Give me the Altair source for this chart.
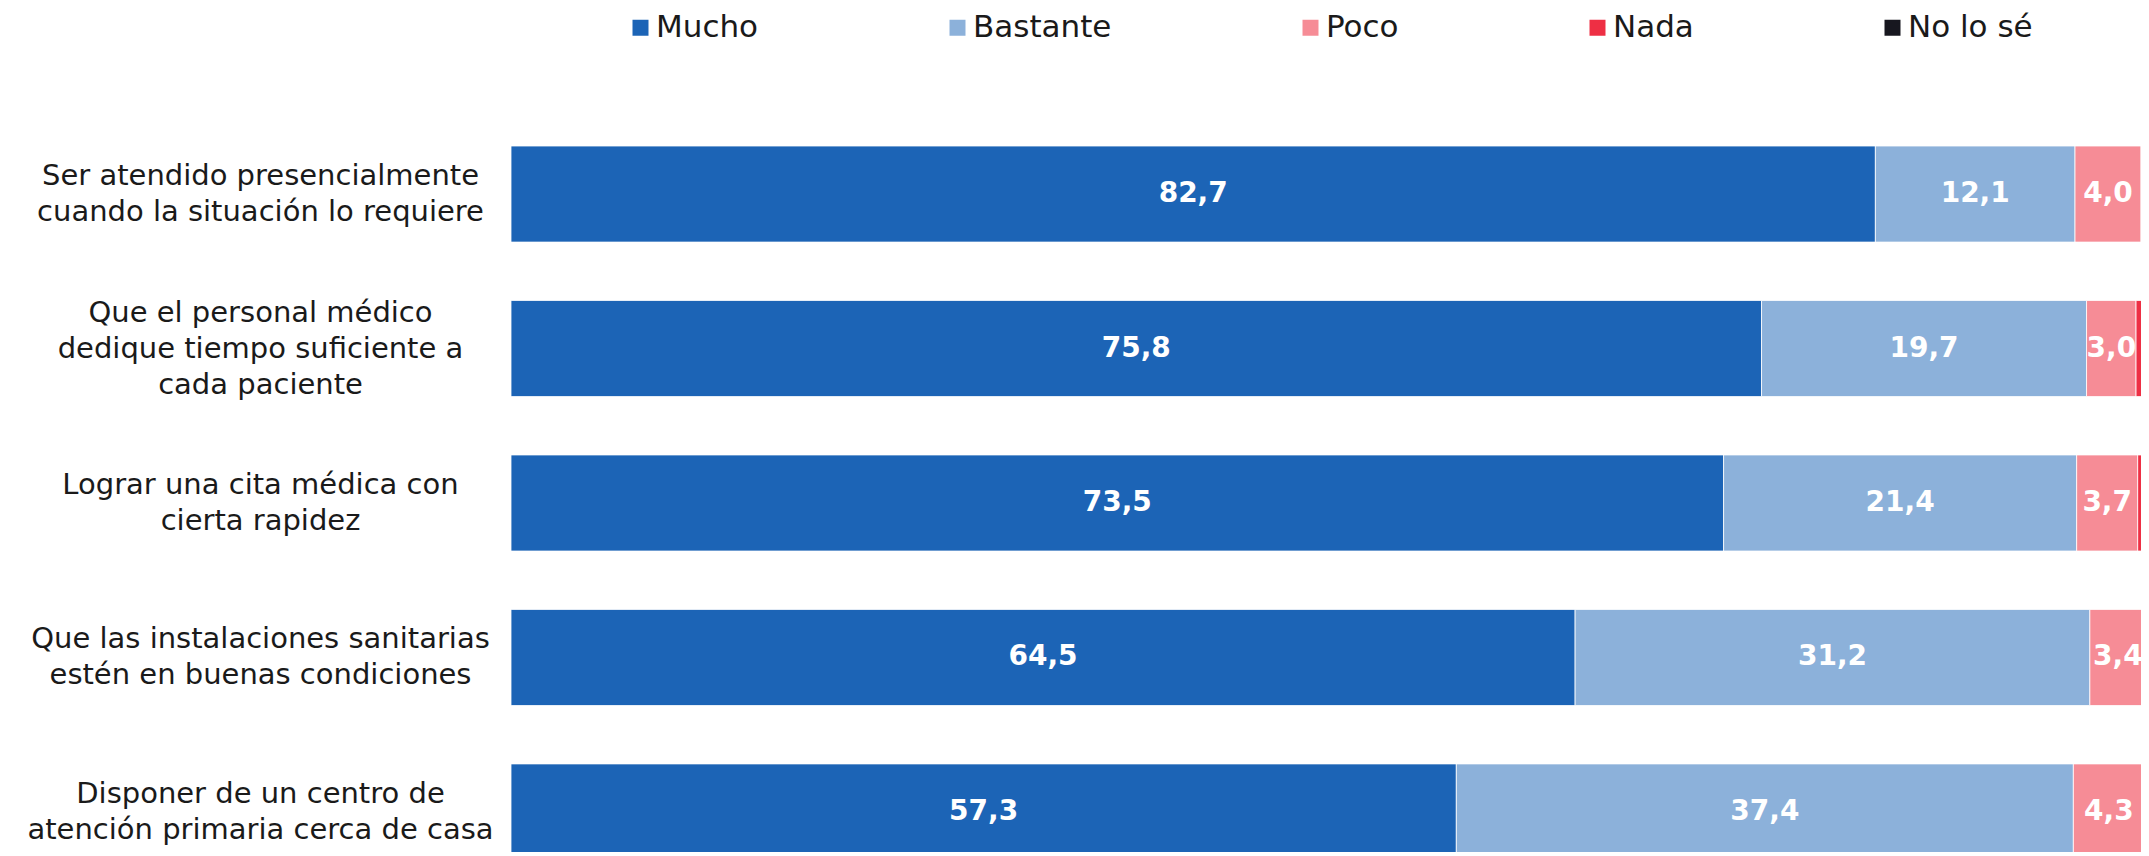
import altair as alt
import pandas as pd

categories = [
    "Ser atendido presencialmente|cuando la situación lo requiere",
    "Que el personal médico|dedique tiempo suficiente a|cada paciente",
    "Lograr una cita médica con|cierta rapidez",
    "Que las instalaciones sanitarias|estén en buenas condiciones",
    "Disponer de un centro de|atención primaria cerca de casa",
]
series = ["Mucho", "Bastante", "Poco", "Nada", "No lo sé"]
colors = ["#1C64B6", "#8CB1DA", "#F68C96", "#EE2F44", "#17171F"]

mucho = [82.7, 75.8, 73.5, 64.5, 57.3]
bastante = [12.1, 19.7, 21.4, 31.2, 37.4]
poco = [4.0, 3.0, 3.7, 3.4, 4.3]
nada = [0.8, 1.0, 0.9, 0.6, 0.7]
nolose = [0.4, 0.5, 0.5, 0.3, 0.3]

rows = []
for i, c in enumerate(categories):
    for j, (s, vals) in enumerate(zip(series, [mucho, bastante, poco, nada, nolose])):
        rows.append({"cat": c, "serie": s, "orden": j, "valor": vals[i]})
df = pd.DataFrame(rows)

FONT = "DejaVu Sans"

base = alt.Chart(df).transform_stack(
    stack="valor", groupby=["cat"], as_=["x0", "x1"], sort=[alt.SortField("orden")]
)

yenc = alt.Y(
    "cat:N",
    sort=categories,
    scale=alt.Scale(range=[46, 760], paddingInner=0.378, paddingOuter=0),
    axis=alt.Axis(
        title=None,
        labelExpr="split(datum.label, '|')",
        labelAlign="center",
        labelBaseline="middle",
        labelPadding=251,
        labelOffset={
            "condition": {"test": "length(split(datum.label, '|')) == 3", "value": -36},
            "value": -18,
        },
        labelFontSize=29,
        labelLineHeight=36,
        labelFont=FONT,
        labelColor="#1a1a1a",
        ticks=False,
        domain=False,
        labelLimit=0,
    ),
)

xscale = alt.Scale(domain=[0, 98.8], nice=False, zero=False)

bars = base.mark_bar(clip=True, stroke="white", strokeWidth=0.8).encode(
    x=alt.X("x0:Q", scale=xscale, axis=None),
    x2="x1:Q",
    y=yenc,
    color=alt.Color(
        "serie:N",
        scale=alt.Scale(domain=series, range=colors),
        legend=alt.Legend(
            orient="none",
            legendX=114,
            legendY=-88,
            direction="horizontal",
            title=None,
            symbolType="square",
            symbolSize=256,
            symbolStrokeWidth=0,
            labelFontSize=31,
            labelFont=FONT,
            labelColor="#1a1a1a",
            columnPadding=183,
            labelOffset=0,
            padding=0,
        ),
    ),
    order=alt.Order("orden:Q"),
)

texts = base.transform_filter("datum.valor >= 2").transform_calculate(
    mid="(datum.x0 + datum.x1) / 2",
    etiqueta="replace(format(datum.valor, '.1f'), '.', ',')",
).mark_text(
    color="white", fontWeight="bold", fontSize=28, font=FONT, baseline="middle", align="center"
).encode(
    x=alt.X("mid:Q", scale=xscale, axis=None),
    y=alt.Y("cat:N", sort=categories),
    text="etiqueta:N",
)

chart = alt.layer(bars, texts).properties(
    width=1630,
    height=752,
    autosize=alt.AutoSizeParams(type="none"),
    padding={"left": 503, "top": 92, "right": 0, "bottom": 0},
).configure_view(stroke=None)

chart.save("out.html", embed_options={"renderer": "svg", "actions": False})
